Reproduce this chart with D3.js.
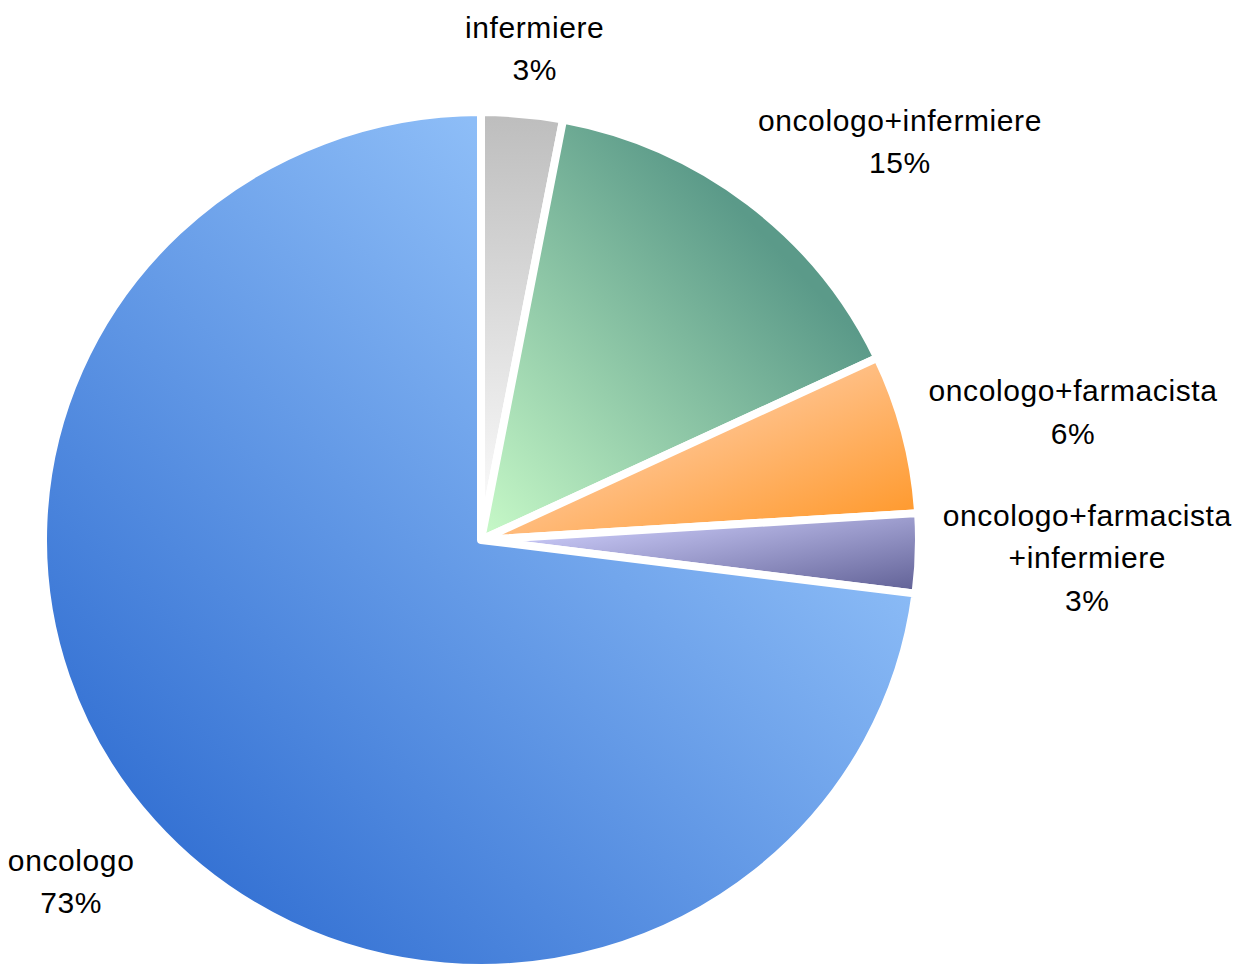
<!DOCTYPE html>
<html>
<head>
<meta charset="utf-8">
<script src="https://cdn.jsdelivr.net/npm/d3@7"></script>
<style>
  html, body { margin: 0; padding: 0; background: #fff; }
  svg { display: block; }
  text { font-family: "Liberation Sans", Arial, sans-serif; font-size: 30px; letter-spacing: 0.6px; fill: #000; }
</style>
</head>
<body>
<script>
// dati
const categories = ['infermiere', 'oncologo+infermiere', 'oncologo+farmacista', 'oncologo+farmacista+infermiere', 'oncologo'];
const values = [3, 15, 6, 3, 73];

// sfumature per fetta (stile)
const fills = [
  { x1: 0, y1: 0, x2: 0, y2: 1, stops: [[0, '#bdbdbd'], [1, '#ffffff']] },
  { x1: 0, y1: 1, x2: 1, y2: 0, stops: [[0, '#c8fac8'], [0.72, '#5b9a89'], [1, '#5b9a89']] },
  { x1: 0, y1: 0, x2: 1, y2: 1, stops: [[0.45, '#ffbf85'], [1, '#ff9420']] },
  { x1: 0, y1: 0, x2: 1, y2: 1, stops: [[0.2, '#c6c6f4'], [1, '#5f5f94']] },
  { x1: 0, y1: 1, x2: 1, y2: 0, stops: [[0, '#2060cb'], [0.74, '#8dbdf7'], [1, '#8fbff8']] }
];

const width = 1238, height = 965;
const cx = 481, cy = 540;
const radius = 438;
const sy = 0.977;          // il cerchio originale e' leggermente schiacciato
const labelR = 462;
const lineH = 42.5;

const svg = d3.select('body').append('svg')
  .attr('width', width).attr('height', height);

const defs = svg.append('defs');
fills.forEach((f, i) => {
  const g = defs.append('linearGradient')
    .attr('id', 'g' + i)
    .attr('x1', f.x1).attr('y1', f.y1).attr('x2', f.x2).attr('y2', f.y2);
  f.stops.forEach(s => g.append('stop').attr('offset', s[0]).attr('stop-color', s[1]));
});

const pie = d3.pie().sort(null).value(d => d);
const arcs = pie(values);
const arc = d3.arc().innerRadius(0).outerRadius(radius);

const pieG = svg.append('g')
  .attr('transform', `translate(${cx},${cy}) scale(1,${sy})`);

pieG.selectAll('path')
  .data(arcs)
  .enter().append('path')
  .attr('d', arc)
  .attr('fill', (d, i) => `url(#g${i})`)
  .attr('stroke', '#fff')
  .attr('stroke-width', 8)
  .attr('stroke-linejoin', 'round')
  .attr('vector-effect', 'non-scaling-stroke');

// etichette
const total = d3.sum(values);
const pct = v => Math.round(v / total * 100) + '%';
const clamp = x => Math.max(-1, Math.min(1, x * 1.56));

function lines(name) {
  const parts = name.split('+');
  if (parts.length > 2) {
    return [parts.slice(0, 2).join('+'), '+' + parts.slice(2).join('+')];
  }
  return [name];
}

arcs.forEach((d, i) => {
  const rows = lines(categories[i]).concat([pct(d.value)]);
  const t = svg.append('text').attr('text-anchor', 'middle');
  const spans = rows.map(r => t.append('tspan').text(r));
  const w = d3.max(spans, s => s.node().getComputedTextLength());
  const h = rows.length * lineH;

  const a = (d.startAngle + d.endAngle) / 2;
  const sa = Math.sin(a), ca = Math.cos(a);
  const x = cx + labelR * sa + (w / 2) * clamp(sa);
  const y = cy - labelR * ca * sy - (h / 2) * clamp(ca);

  const block = 22 + (rows.length - 1) * lineH;
  const first = y - block / 2 + 22;
  spans.forEach((s, k) => s.attr('x', x).attr('y', first + k * lineH));
});
</script>
</body>
</html>
